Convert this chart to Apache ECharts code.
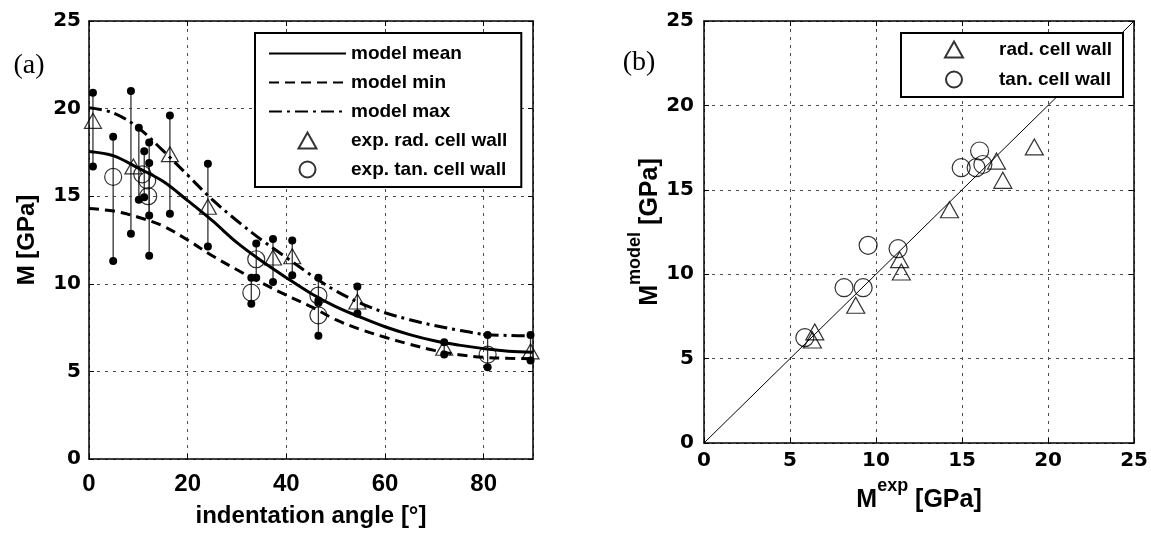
<!DOCTYPE html>
<html><head><meta charset="utf-8">
<script src="https://cdn.jsdelivr.net/npm/echarts@6/dist/echarts.min.js"></script>
<style>html,body{margin:0;padding:0;background:#fff}#c{width:1151px;height:533px}</style>
</head><body><div id="c"></div>
<script>
// ---- panel (a): model curves, M [GPa] vs indentation angle [deg]
const modelAngles = [0,5,10,15,20,25,30,35,40,45,50,55,60,65,70,75,80,85,90];
const modelMean = [17.55,17.3,16.6,15.85,14.75,13.6,12.35,11.3,10.35,9.45,8.7,8.1,7.55,7.1,6.75,6.5,6.3,6.15,6.1];
const modelMin  = [14.3,14.15,13.8,13.3,12.5,11.6,10.8,10.05,9.35,8.7,7.95,7.4,6.95,6.55,6.2,5.95,5.8,5.75,5.72];
const modelMax  = [20.05,19.75,18.9,17.6,16.2,14.8,13.6,12.5,11.5,10.5,9.6,8.9,8.35,7.95,7.62,7.35,7.12,7.05,7.03];
// ---- panel (a): experiments
const radAngle = [0.8,9.0,16.4,24.1,37.3,41.2,54.4,72.0,89.5];
const radM     = [19.3,16.7,17.4,14.4,11.5,11.57,8.99,6.35,6.14];
const tanAngle = [4.9,10.8,11.8,12.0,33.9,32.9,46.5,46.5,80.8];
const tanM     = [16.1,16.25,15.9,15.0,11.4,9.5,9.33,8.2,5.96];
// ---- panel (a): error bars (min / max)
const barAngle = [0.8,4.9,8.5,10.1,11.2,12.2,12.2,16.4,24.1,33.9,32.9,37.3,41.2,46.5,46.5,54.4,72.0,80.8,89.5];
const barLow   = [16.7,11.3,12.85,14.8,14.94,11.6,13.9,14.0,12.13,10.35,8.86,10.1,10.49,8.9,7.04,8.3,5.96,5.24,5.62];
const barHigh  = [20.9,18.4,21.0,18.9,17.57,18.07,16.9,19.6,16.85,12.3,10.35,12.55,12.47,10.35,9.04,9.85,6.67,7.08,7.08];
// ---- panel (b): model vs experiment
const radExp   = [19.2,17.0,17.37,14.27,11.37,11.47,8.82,6.44,6.3];
const radModel = [17.54,16.7,15.56,13.82,10.86,10.13,8.16,6.58,6.1];
const tanExp   = [5.86,8.14,9.25,9.54,11.28,14.95,15.82,16.02,16.21];
const tanModel = [6.24,9.2,9.2,11.71,11.51,16.31,16.31,17.3,16.5];
const diagLine = [0, 25];

const zip = (a, b) => a.map((v, i) => [v, b[i]]);
const F_NUM = 'DejaVu Sans';
const F_TXT = 'Liberation Sans';
const TRI = 'path://M0,16L9,0L18,16Z';
const splitL = {show: true, lineStyle: {type: [3, 5], color: '#4d4d4d', width: 1}};
const axLine = () => ({show: true, onZero: false, lineStyle: {color: '#000', width: 1.5}});
const axTick = () => ({show: true, inside: true, length: 5, lineStyle: {color: '#000', width: 1}});
const lbl = (size, fam, margin) => ({show: true, color: '#000', fontFamily: fam, fontWeight: 'bold', fontSize: size, margin: margin});
const nameStyle = {fontFamily: F_TXT, fontWeight: 'bold', fontSize: 24, color: '#000'};
const supRich = {
  m: {fontFamily: F_TXT, fontWeight: 'bold', fontSize: 25, lineHeight: 36, verticalAlign: 'bottom', color: '#000'},
  s: {fontFamily: F_TXT, fontWeight: 'bold', fontSize: 18, lineHeight: 15, verticalAlign: 'top', color: '#000'}
};
const boxAxis = (grid, min, max, interval, pos) => ({
  type: 'value', gridIndex: grid, min: min, max: max, interval: interval, position: pos,
  axisLine: axLine(), axisTick: axTick(), axisLabel: {show: false}, splitLine: {show: false}
});
const hideSym = {opacity: 0};
const legendText = {fontFamily: F_TXT, fontWeight: 'bold', fontSize: 19, lineHeight: 16, color: '#000'};

const option = {
  animation: false,
  backgroundColor: '#fff',
  grid: [
    {left: 89, top: 21, width: 444, height: 445},
    {left: 704, top: 21, width: 431, height: 422}
  ],
  xAxis: [
    {type: 'value', gridIndex: 0, min: 0, max: 90, interval: 20, position: 'bottom',
     axisLine: axLine(), axisTick: axTick(), splitLine: splitL,
     axisLabel: Object.assign(lbl(24, F_TXT, 13), {showMaxLabel: false}),
     name: 'indentation angle [°]', nameLocation: 'middle', nameGap: 45, nameTextStyle: nameStyle},
    boxAxis(0, 0, 90, 20, 'top'),
    {type: 'value', gridIndex: 1, min: 0, max: 25, interval: 5, position: 'bottom',
     axisLine: axLine(), axisTick: axTick(), splitLine: splitL,
     axisLabel: lbl(20, F_NUM, 8),
     name: '{m|M}{s|exp}{m| [GPa]}', nameLocation: 'middle', nameGap: 34,
     nameTextStyle: {rich: supRich}},
    boxAxis(1, 0, 25, 5, 'top')
  ],
  yAxis: [
    {type: 'value', gridIndex: 0, min: 0, max: 25, interval: 5, position: 'left',
     axisLine: axLine(), axisTick: axTick(), splitLine: splitL,
     axisLabel: lbl(20, F_NUM, 8),
     name: 'M [GPa]', nameLocation: 'middle', nameGap: 50, nameTextStyle: nameStyle},
    boxAxis(0, 0, 25, 5, 'right'),
    {type: 'value', gridIndex: 1, min: 0, max: 25, interval: 5, position: 'left',
     axisLine: axLine(), axisTick: axTick(), splitLine: splitL,
     axisLabel: lbl(20, F_NUM, 10),
     name: '{m|M}{s|model}{m| [GPa]}', nameLocation: 'middle', nameGap: 32,
     nameTextStyle: {rich: supRich}},
    boxAxis(1, 0, 25, 5, 'right')
  ],
  legend: [
    {data: [
       {name: 'model mean', itemStyle: hideSym},
       {name: 'model min', itemStyle: hideSym},
       {name: 'model max', itemStyle: hideSym},
       {name: 'exp. rad. cell wall', icon: TRI},
       {name: 'exp. tan. cell wall', icon: 'circle'}],
     orient: 'vertical', left: 255, top: 33, padding: [11, 14, 8, 13],
     itemWidth: 77, itemHeight: 16, itemGap: 10, symbolKeepAspect: true,
     backgroundColor: '#fff', borderColor: '#000', borderWidth: 2, borderRadius: 0,
     selectedMode: false, textStyle: legendText},
    {data: [{name: 'rad. cell wall', icon: TRI}, {name: 'tan. cell wall', icon: 'circle'}],
     orient: 'vertical', left: 901, top: 33, padding: [7, 11, 8, 43],
     itemWidth: 80, itemHeight: 16, itemGap: 11, symbolKeepAspect: true,
     backgroundColor: '#fff', borderColor: '#000', borderWidth: 2, borderRadius: 0,
     selectedMode: false, textStyle: legendText}
  ],
  graphic: [
    {type: 'text', x: 29, y: 66, style: {text: '(a)', fontFamily: 'Liberation Serif', fontSize: 28, fill: '#000',
      align: 'center', verticalAlign: 'middle', textAlign: 'center', textVerticalAlign: 'middle'}},
    {type: 'text', x: 639, y: 63, style: {text: '(b)', fontFamily: 'Liberation Serif', fontSize: 28, fill: '#000',
      align: 'center', verticalAlign: 'middle', textAlign: 'center', textVerticalAlign: 'middle'}}
  ],
  series: [
    {type: 'custom', name: 'range', xAxisIndex: 0, yAxisIndex: 0, silent: true, z: 1,
     data: barAngle.map((a, i) => [a, barLow[i], barHigh[i]]),
     encode: {x: 0, y: [1, 2]},
     renderItem: function (params, api) {
       const p1 = api.coord([api.value(0), api.value(1)]);
       const p2 = api.coord([api.value(0), api.value(2)]);
       return {type: 'group', children: [
         {type: 'line', shape: {x1: p1[0], y1: p1[1], x2: p2[0], y2: p2[1]}, style: {stroke: '#333', lineWidth: 1.3}},
         {type: 'circle', shape: {cx: p1[0], cy: p1[1], r: 4}, style: {fill: '#000'}},
         {type: 'circle', shape: {cx: p2[0], cy: p2[1], r: 4}, style: {fill: '#000'}}
       ]};
     }},
    {type: 'line', name: 'model mean', xAxisIndex: 0, yAxisIndex: 0, data: zip(modelAngles, modelMean),
     symbol: 'none', smooth: 0.35, silent: true, z: 3,
     lineStyle: {color: '#000', width: 3, type: 'solid'}, itemStyle: {color: '#000'}},
    {type: 'line', name: 'model min', xAxisIndex: 0, yAxisIndex: 0, data: zip(modelAngles, modelMin),
     symbol: 'none', smooth: 0.35, silent: true, z: 3,
     lineStyle: {color: '#000', width: 3, type: [10, 6]}, itemStyle: {color: '#000'}},
    {type: 'line', name: 'model max', xAxisIndex: 0, yAxisIndex: 0, data: zip(modelAngles, modelMax),
     symbol: 'none', smooth: 0.35, silent: true, z: 3,
     lineStyle: {color: '#000', width: 3, type: [13, 5, 3, 5]}, itemStyle: {color: '#000'}},
    {type: 'scatter', name: 'exp. rad. cell wall', xAxisIndex: 0, yAxisIndex: 0, data: zip(radAngle, radM),
     symbol: 'triangle', symbolSize: [17, 15], clip: false, silent: true, z: 4,
     itemStyle: {color: 'rgba(255,255,255,0)', borderColor: '#000', borderWidth: 1.2}},
    {type: 'scatter', name: 'exp. tan. cell wall', xAxisIndex: 0, yAxisIndex: 0, data: zip(tanAngle, tanM),
     symbol: 'circle', symbolSize: 17, clip: false, silent: true, z: 4,
     itemStyle: {color: 'rgba(255,255,255,0)', borderColor: '#000', borderWidth: 1.2}},
    {type: 'line', name: 'identity', xAxisIndex: 2, yAxisIndex: 2, data: zip(diagLine, diagLine),
     symbol: 'none', silent: true, z: 2, lineStyle: {color: '#000', width: 1}},
    {type: 'scatter', name: 'rad. cell wall', xAxisIndex: 2, yAxisIndex: 2, data: zip(radExp, radModel),
     symbol: 'triangle', symbolSize: [18, 16], clip: false, silent: true, z: 3,
     itemStyle: {color: 'rgba(255,255,255,0)', borderColor: '#000', borderWidth: 1.2}},
    {type: 'scatter', name: 'tan. cell wall', xAxisIndex: 2, yAxisIndex: 2, data: zip(tanExp, tanModel),
     symbol: 'circle', symbolSize: 18, clip: false, silent: true, z: 3,
     itemStyle: {color: 'rgba(255,255,255,0)', borderColor: '#000', borderWidth: 1.2}}
  ]
};
const chart = echarts.init(document.getElementById('c'), null, {renderer: 'canvas'});
chart.setOption(option);
</script>
</body></html>
